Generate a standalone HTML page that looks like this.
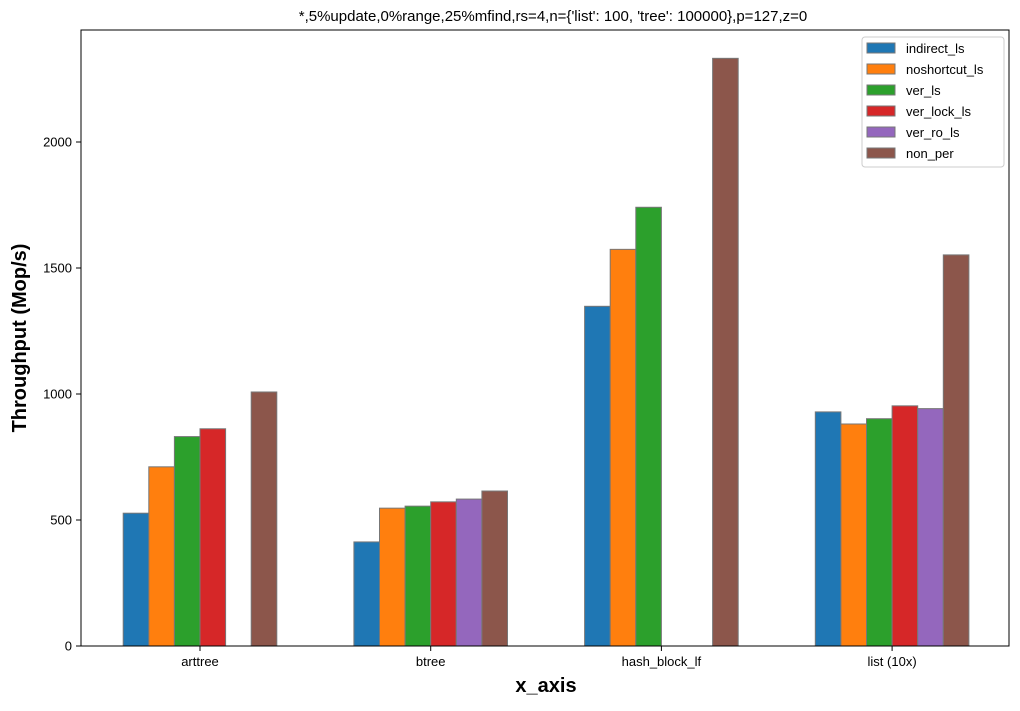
<!DOCTYPE html>
<html><head><meta charset="utf-8"><style>
body{margin:0;background:#fff;font-family:"Liberation Sans","DejaVu Sans",sans-serif;}
</style></head><body>
<svg id="chart" width="1020" height="706" xmlns="http://www.w3.org/2000/svg">
<text x="553" y="21" text-anchor="middle" font-size="15">*,5%update,0%range,25%mfind,rs=4,n={'list': 100, 'tree': 100000},p=127,z=0</text>
<g id="bars"></g>
<rect x="81" y="30" width="928" height="616" fill="none" stroke="#000" stroke-width="1"/>
<g id="axes"></g>
<text x="546" y="692" text-anchor="middle" font-size="20" font-weight="bold">x_axis</text>
<text transform="translate(26,338) rotate(-90)" text-anchor="middle" font-size="20" font-weight="bold">Throughput (Mop/s)</text>
<g id="legend"></g>
</svg>
<script>
const categories=["arttree","btree","hash_block_lf","list (10x)"];
const seriesNames=["indirect_ls","noshortcut_ls","ver_ls","ver_lock_ls","ver_ro_ls","non_per"];
const indirect_ls=[527,413,1348,929];
const noshortcut_ls=[711,547,1574,881];
const ver_ls=[831,555,1741,902];
const ver_lock_ls=[862,572,0,953];
const ver_ro_ls=[0,583,0,942];
const non_per=[1008,615,2332,1552];
const yTicks=[0,500,1000,1500,2000];
const series=[indirect_ls,noshortcut_ls,ver_ls,ver_lock_ls,ver_ro_ls,non_per];
const colors=["#1f77b4","#ff7f0e","#2ca02c","#d62728","#9467bd","#8c564b"];
const NS="http://www.w3.org/2000/svg";
const y=v=>646-v*0.252;
const groupX=i=>200+i*230.7;
const bw=25.6;
const bars=document.getElementById('bars');
series.forEach((s,si)=>{s.forEach((v,ci)=>{
  if(v<=0)return;
  const r=document.createElementNS(NS,'rect');
  r.setAttribute('x',groupX(ci)-3*bw+si*bw);
  r.setAttribute('y',y(v));
  r.setAttribute('width',bw);
  r.setAttribute('height',646-y(v));
  r.setAttribute('fill',colors[si]);
  r.setAttribute('stroke','#777');
  r.setAttribute('stroke-width','1');
  
  
  bars.appendChild(r);
});});
const axes=document.getElementById('axes');
yTicks.forEach(t=>{
  const l=document.createElementNS(NS,'line');
  l.setAttribute('x1',76);l.setAttribute('x2',81);l.setAttribute('y1',y(t));l.setAttribute('y2',y(t));l.setAttribute('stroke','#000');
  axes.appendChild(l);
  const tx=document.createElementNS(NS,'text');
  tx.setAttribute('x',72);tx.setAttribute('y',y(t)+4.5);tx.setAttribute('text-anchor','end');tx.setAttribute('font-size','13');
  tx.textContent=t;
  
  
  axes.appendChild(tx);
});
categories.forEach((c,i)=>{
  const l=document.createElementNS(NS,'line');
  l.setAttribute('x1',groupX(i));l.setAttribute('x2',groupX(i));l.setAttribute('y1',646);l.setAttribute('y2',651);l.setAttribute('stroke','#000');
  axes.appendChild(l);
  const tx=document.createElementNS(NS,'text');
  tx.setAttribute('x',groupX(i));tx.setAttribute('y',666);tx.setAttribute('text-anchor','middle');tx.setAttribute('font-size','13');
  tx.textContent=c;
  
  
  axes.appendChild(tx);
});
const lg=document.getElementById('legend');
const bg=document.createElementNS(NS,'rect');
bg.setAttribute('x',862);bg.setAttribute('y',37);bg.setAttribute('width',142);bg.setAttribute('height',130);bg.setAttribute('rx',3);
bg.setAttribute('fill','#fff');bg.setAttribute('stroke','#ccc');
lg.appendChild(bg);
seriesNames.forEach((n,i)=>{
  const r=document.createElementNS(NS,'rect');
  r.setAttribute('x',867);r.setAttribute('y',43+i*21);r.setAttribute('width',28);r.setAttribute('height',10);
  r.setAttribute('fill',colors[i]);r.setAttribute('stroke','#777');
  
  
  lg.appendChild(r);
  const t=document.createElementNS(NS,'text');
  t.setAttribute('x',906);t.setAttribute('y',53+i*21);t.setAttribute('font-size','13');
  t.textContent=n;
  
  
  lg.appendChild(t);
});
</script>
</body></html>
